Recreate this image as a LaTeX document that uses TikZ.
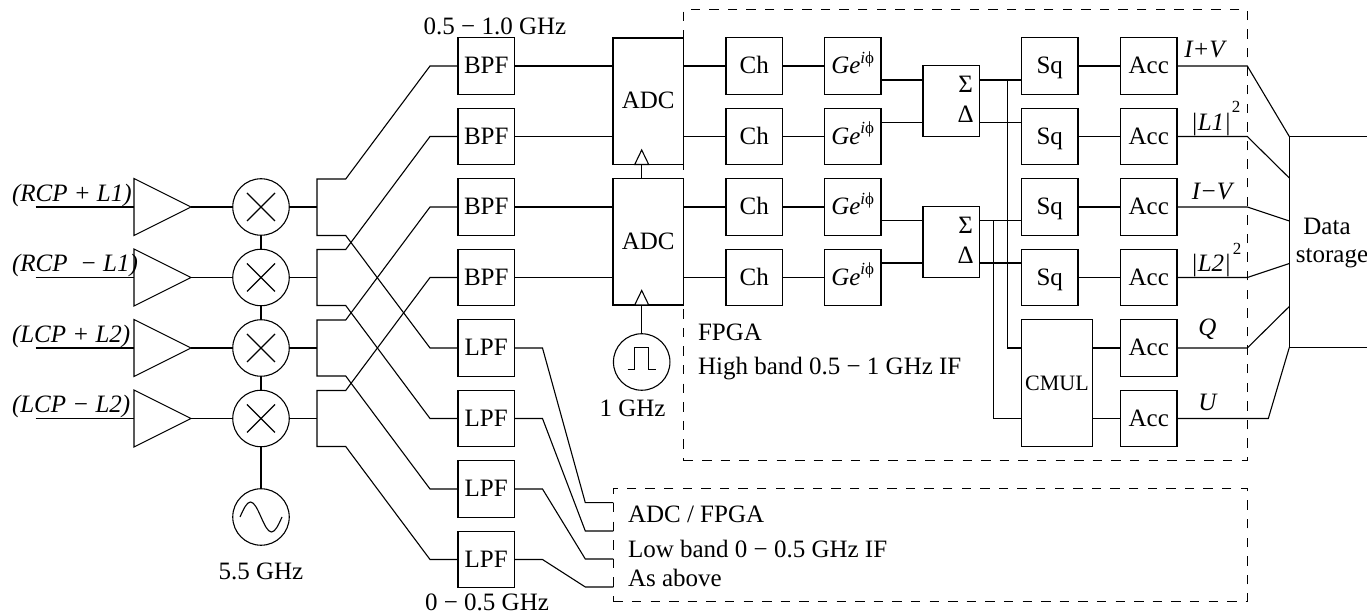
\documentclass[tikz,border=0pt]{standalone}
\usepackage{fontspec}
\setmainfont{Liberation Serif}
\usetikzlibrary{positioning,calc,shapes.geometric}
\newcommand{\gephase}{\textit{Ge}\raisebox{0.42em}{\fontsize{8.5}{9}\selectfont\textit{i}ϕ}}

\begin{document}
\begin{tikzpicture}[
  x=0.5pt,y=-0.5pt,line width=0.55pt,
  every node/.style={font=\fontsize{12.5}{15}\selectfont,inner sep=0pt,outer sep=0pt},
  wire/.style={line join=miter},
  filter/.style={draw,minimum width=28.25pt,minimum height=28.25pt,text height=8.5pt,text depth=0.5pt},
  adcbox/.style={draw,minimum width=35.25pt,minimum height=63.25pt},
  sumbox/.style={draw,minimum width=28.25pt,minimum height=35.5pt},
  amp/.style={draw,isosceles triangle,isosceles triangle stretches,shape border rotate=0,minimum width=28.5pt,minimum height=28.5pt,anchor=apex},
  clktri/.style={draw,isosceles triangle,isosceles triangle stretches,shape border rotate=90,minimum width=7pt,minimum height=7.25pt,anchor=lower side,fill=white},
  mixer/.style={draw,circle,minimum size=28.25pt,path picture={
    \draw (path picture bounding box.center) ++(-14,-14) -- ++(28,28) ++(0,-28) -- ++(-28,28);}},
  dashbox/.style={draw,dash pattern=on 4.7pt off 4.6pt},
  note/.style={anchor=base west},
  siglabel/.style={anchor=base,font=\fontsize{12.5}{15}\selectfont\itshape},
]
\useasboundingbox (0,0) rectangle (1367,614);

% dashed regions
\node[dashbox,minimum width=281.9pt,minimum height=225.6pt] (fpga) at (965.4,235.1) {};
\node[dashbox,minimum width=317pt,minimum height=56.3pt] (lowfpga) at (930.3,545) {};

% inputs, amplifiers and mixers
\node[amp] (amp1) at (191,207) {};
\node[amp] (amp2) at (191,277.5) {};
\node[amp] (amp3) at (191,348) {};
\node[amp] (amp4) at (191,418.5) {};
\coordinate (in1) at (35.7,207);
\coordinate (in2) at (35.7,277.5);
\coordinate (in3) at (35.7,348);
\coordinate (in4) at (35.7,418.5);
\node[note,font=\fontsize{12.5}{15}\selectfont\itshape] (inlab1) at (12,201.7) {(RCP + L1)};
\node[note,font=\fontsize{12.5}{15}\selectfont\itshape] (inlab2) at (12,271.7) {(RCP \ − L1)};
\node[note,font=\fontsize{12.5}{15}\selectfont\itshape] (inlab3) at (12,342.7) {(LCP + L2)};
\node[note,font=\fontsize{12.5}{15}\selectfont\itshape] (inlab4) at (12,412.7) {(LCP − L2)};
\node[mixer] (mix1) at (261,207) {};
\node[mixer] (mix2) at (261,277.5) {};
\node[mixer] (mix3) at (261,348) {};
\node[mixer] (mix4) at (261,418.5) {};
\node[draw,circle,minimum size=28.25pt,path picture={
  \draw (path picture bounding box.center) ++(-21,0) sin ++(10.5,-15) cos ++(10.5,15) sin ++(10.5,15) cos ++(10.5,-15);}] (lo) at (261,517) {};
\node[anchor=base] (lolab) at (261,580) {5.5 GHz};

% filters
\node[filter] (bpf1) at (486.25,66) {BPF};
\node[filter,below=7pt of bpf1] (bpf2) {BPF};
\node[filter,below=7pt of bpf2] (bpf3) {BPF};
\node[filter,below=7pt of bpf3] (bpf4) {BPF};
\node[filter,below=7pt of bpf4] (lpf1) {LPF};
\node[filter,below=7pt of lpf1] (lpf2) {LPF};
\node[filter,below=7pt of lpf2] (lpf3) {LPF};
\node[filter,below=7pt of lpf3] (lpf4) {LPF};
\node[anchor=base] (hilab) at (495,35) {0.5 − 1.0 GHz};
\node[anchor=base] (lowlab) at (487,610.7) {0 − 0.5 GHz};

% converters and clock
\node[adcbox,text depth=1pt] (adc1) at (648.25,101.25) {ADC};
\node[adcbox,text depth=1pt,below=7pt of adc1] (adc2) {ADC};
\node[clktri] (clk1) at (641.7,164.5) {};
\node[clktri] (clk2) at (641.7,305) {};
\node[draw,circle,minimum size=28.25pt,path picture={
  \draw (path picture bounding box.center) ++(-14,7.3) -- ++(7,0) -- ++(0,-22) -- ++(14,0) -- ++(0,22) -- ++(7,0);}] (clock) at (641.7,362) {};
\node[anchor=base] (clocklab) at (632.5,417) {1 GHz};

% channel processing
\node[filter,right=105.75pt of bpf1] (ch1) {Ch};
\node[filter,right=105.75pt of bpf2] (ch2) {Ch};
\node[filter,right=105.75pt of bpf3] (ch3) {Ch};
\node[filter,right=105.75pt of bpf4] (ch4) {Ch};
\node[filter,right=21pt of ch1] (ge1) {\gephase};
\node[filter,right=21pt of ch2] (ge2) {\gephase};
\node[filter,right=21pt of ch3] (ge3) {\gephase};
\node[filter,right=21pt of ch4] (ge4) {\gephase};
\node[sumbox] (sum1) at (951.25,101.25) {};
\node[sumbox] (sum2) at (951.25,242) {};
\node[anchor=base] (sig1) at (965.7,93) {Σ};
\node[anchor=base] (del1) at (965.7,122.6) {Δ};
\node[anchor=base] (sig2) at (965.7,234) {Σ};
\node[anchor=base] (del2) at (965.7,263.6) {Δ};
\node[filter,right=70.25pt of ge1] (sq1) {Sq};
\node[filter,right=70.25pt of ge2] (sq2) {Sq};
\node[filter,right=70.25pt of ge3] (sq3) {Sq};
\node[filter,right=70.25pt of ge4] (sq4) {Sq};
\node[draw,minimum width=35.5pt,minimum height=63.5pt] (cmul) at (1057,383) {\fontsize{11}{13}\selectfont CMUL};
\node[filter,right=21.25pt of sq1] (acc1) {Acc};
\node[filter,right=21.25pt of sq2] (acc2) {Acc};
\node[filter,right=21.25pt of sq3] (acc3) {Acc};
\node[filter,right=21.25pt of sq4] (acc4) {Acc};
\node[filter,below=7pt of acc4] (acc5) {Acc};
\node[filter,below=7pt of acc5] (acc6) {Acc};

% region notes
\node[note] (fpgalab) at (698,340.7) {FPGA};
\node[note] (fpgaband) at (698,375) {High band 0.5 − 1 GHz IF};
\node[note] (lowlab1) at (628,523) {ADC / FPGA};
\node[note] (lowlab2) at (628,558) {Low band 0 − 0.5 GHz IF};
\node[note] (lowlab3) at (628,587) {As above};

% output labels
\node[siglabel] (outlab1) at (1204.5,58) {I+V};
\node[siglabel] (outlab2) at (1211,130.7) {|L1|};
\node[anchor=base,font=\fontsize{8.5}{9}\selectfont] (outsq2) at (1236,113) {2};
\node[siglabel] (outlab3) at (1212,199.5) {I−V};
\node[siglabel] (outlab4) at (1211,271.7) {|L2|};
\node[anchor=base,font=\fontsize{8.5}{9}\selectfont] (outsq4) at (1237,255) {2};
\node[siglabel] (outlab5) at (1207.5,336) {Q};
\node[siglabel] (outlab6) at (1207.5,410.7) {U};

% data storage
\coordinate (dstop) at (1289.3,136.5);
\coordinate (dsbot) at (1289.3,347.5);
\coordinate (dstopr) at (1367,136.5);
\coordinate (dsbotr) at (1367,347.5);
\node[anchor=base] (dslab1) at (1327,235) {Data};
\node[anchor=base] (dslab2) at (1332,263) {storage};

% input side wires
\draw (in1) -- (amp1.lower side |- in1);
\draw (in2) -- (amp2.lower side |- in2);
\draw (in3) -- (amp3.lower side |- in3);
\draw (in4) -- (amp4.lower side |- in4);
\draw (amp1.apex) -- (mix1);
\draw (amp2.apex) -- (mix2);
\draw (amp3.apex) -- (mix3);
\draw (amp4.apex) -- (mix4);
\draw (mix1) -- (mix2);
\draw (mix2) -- (mix3);
\draw (mix3) -- (mix4);
\draw (mix4) -- (lo);

% splitters and cross-over to the filters
\draw[wire] (mix1.east) -- ++(28,0);
\draw[wire] (mix2.east) -- ++(28,0);
\draw[wire] (mix3.east) -- ++(28,0);
\draw[wire] (mix4.east) -- ++(28,0);
\draw[wire] (bpf1.west) -- ++(-28,0) -- (345.7,179) -- (317,179) -- (317,235.5) -- (345.7,235.5) -- ($(lpf1.west)+(-28,0)$) -- (lpf1.west);
\draw[wire] (bpf2.west) -- ++(-28,0) -- (345.7,249.5) -- (317,249.5) -- (317,305.5) -- (345.7,305.5) -- ($(lpf2.west)+(-28,0)$) -- (lpf2.west);
\draw[wire] (bpf3.west) -- ++(-28,0) -- (345.7,320) -- (317,320) -- (317,376) -- (345.7,376) -- ($(lpf3.west)+(-28,0)$) -- (lpf3.west);
\draw[wire] (bpf4.west) -- ++(-28,0) -- (345.7,390.5) -- (317,390.5) -- (317,446.5) -- (345.7,446.5) -- ($(lpf4.west)+(-28,0)$) -- (lpf4.west);

% low band outputs
\draw[wire] (lpf1.east) -- ++(28,0) -- (585.3,502.7) -- (lowfpga.west |- 0,502.7);
\draw[wire] (lpf2.east) -- ++(28,0) -- (585.3,531) -- (lowfpga.west |- 0,531);
\draw[wire] (lpf3.east) -- ++(28,0) -- (585.3,559) -- (lowfpga.west |- 0,559);
\draw[wire] (lpf4.east) -- ++(28,0) -- (585.3,587) -- (lowfpga.west |- 0,587);

% high band chain
\draw (bpf1) -- (bpf1 -| adc1.west);
\draw (bpf2) -- (bpf2 -| adc1.west);
\draw (bpf3) -- (bpf3 -| adc2.west);
\draw (bpf4) -- (bpf4 -| adc2.west);
\draw (clk1.lower side) -- (clk1.lower side |- adc2.north);
\draw (clk2.lower side) -- (clock.north);
\draw (ch1 -| adc1.east) -- (ch1);
\draw (ch2 -| adc1.east) -- (ch2);
\draw (ch3 -| adc2.east) -- (ch3);
\draw (ch4 -| adc2.east) -- (ch4);
\draw (ch1) -- (ge1);
\draw (ch2) -- (ge2);
\draw (ch3) -- (ge3);
\draw (ch4) -- (ge4);
\draw (ge1.east |- 0,80) -- (sum1.west |- 0,80);
\draw (ge2.east |- 0,122.3) -- (sum1.west |- 0,122.3);
\draw (ge3.east |- 0,220.7) -- (sum2.west |- 0,220.7);
\draw (ge4.east |- 0,263) -- (sum2.west |- 0,263);
\draw (sum1.east |- 0,80) -- (sq1.west |- 0,80);
\draw (sum1.east |- 0,122.3) -- (sq2.west |- 0,122.3);
\draw (sum2.east |- 0,220.7) -- (sq3.west |- 0,220.7);
\draw (sum2.east |- 0,263) -- (sq4.west |- 0,263);
\draw[wire] (1007.7,80) -- (1007.7,348) -- (cmul.west |- 0,348);
\draw[wire] (993.7,220.7) -- (993.7,418.5) -- (cmul.west |- 0,418.5);
\draw (sq1) -- (acc1);
\draw (sq2) -- (acc2);
\draw (sq3) -- (acc3);
\draw (sq4) -- (acc4);
\draw (acc5 -| cmul.east) -- (acc5);
\draw (acc6 -| cmul.east) -- (acc6);

% outputs to storage
\draw[wire] (acc1) -- (acc1 -| fpga.east) -- (dstop);
\draw[wire] (acc2) -- (acc2 -| fpga.east) -- (1289.3,178);
\draw[wire] (acc3) -- (acc3 -| fpga.east) -- (1289.3,221);
\draw[wire] (acc4) -- (acc4 -| fpga.east) -- (1289.3,263.5);
\draw[wire] (acc5) -- (acc5 -| fpga.east) -- (1289.3,306.5);
\draw[wire] (acc6) -- (1268.3,418.5) -- (dsbot);
\draw (dstopr) -- (dstop) -- (dsbot) -- (dsbotr);
\end{tikzpicture}
\end{document}
